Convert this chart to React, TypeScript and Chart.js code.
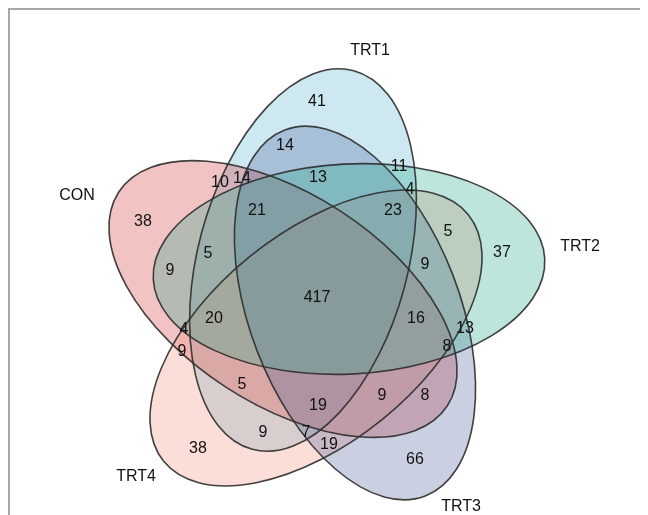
import React, { useEffect, useRef } from "react";
import { Chart, registerables } from "chart.js";

Chart.register(...registerables);

// ---- data ----
const setNames = ["CON", "TRT1", "TRT2", "TRT3", "TRT4"];
const setFillColors = [
  "rgba(212,55,55,0.3)",
  "rgba(90,178,205,0.3)",
  "rgba(40,168,140,0.3)",
  "rgba(80,95,155,0.3)",
  "rgba(242,145,122,0.3)",
];
// painting order of the set fills (TRT1, CON, TRT4, TRT3, TRT2)
const fillOrder = [1, 0, 4, 3, 2];
const ellipseCenterX = [283, 303, 349, 355, 316];
const ellipseCenterY = [299, 260, 269, 313, 338];
const ellipseSemiMajor = [196, 196, 196, 196, 196];
const ellipseSemiMinor = [105, 105, 105, 105, 105];
const ellipseAngleDeg = [213, -75, -3, 69, 141];
const setLabelX = [77, 370, 580, 461, 136];
const setLabelY = [196, 51, 247, 507, 477];

const regionCounts = [
  41, 14, 10, 14, 13, 21, 38, 5, 11, 4, 23, 5, 37, 417, 9, 9, 20, 4, 9, 5,
  19, 9, 7, 38, 16, 13, 8, 9, 8, 19, 66,
];
const regionX = [
  317, 285, 220, 242, 318, 257, 143, 208, 399, 410, 393, 448, 502, 317, 425,
  170, 214, 184, 182, 242, 318, 263, 306, 198, 416, 465, 447, 382, 425, 329,
  415,
];
const regionY = [
  102, 146, 183, 179, 178, 211, 222, 254, 167, 190, 211, 232, 253, 298, 265,
  271, 319, 330, 352, 385, 406, 433, 433, 449, 319, 329, 347, 396, 396, 445,
  460,
];

const vennPlugin = {
  id: "vennPlugin",
  beforeDatasetsDraw(chart: any) {
    const { ctx, scales } = chart;
    const xs = scales.x;
    const ys = scales.y;
    const k = Math.abs(xs.getPixelForValue(100) - xs.getPixelForValue(0)) / 100;
    const shapes = setNames.map((_, i) => ({
      x: xs.getPixelForValue(ellipseCenterX[i]),
      y: ys.getPixelForValue(ellipseCenterY[i]),
      a: ellipseSemiMajor[i] * k,
      b: ellipseSemiMinor[i] * k,
      r: (ellipseAngleDeg[i] * Math.PI) / 180,
    }));
    ctx.save();
    fillOrder.forEach((i) => {
      const s = shapes[i];
      ctx.beginPath();
      ctx.ellipse(s.x, s.y, s.a, s.b, s.r, 0, Math.PI * 2);
      ctx.fillStyle = setFillColors[i];
      ctx.fill();
    });
    shapes.forEach((s) => {
      ctx.beginPath();
      ctx.ellipse(s.x, s.y, s.a, s.b, s.r, 0, Math.PI * 2);
      ctx.strokeStyle = "rgba(45,45,45,0.9)";
      ctx.lineWidth = 1.6;
      ctx.stroke();
    });
    ctx.restore();
  },
  afterDatasetsDraw(chart: any) {
    const { ctx } = chart;
    ctx.save();
    ctx.fillStyle = "#111";
    ctx.textAlign = "center";
    ctx.textBaseline = "middle";
    ctx.font = "16px 'Liberation Sans', Arial, sans-serif";
    chart.data.datasets.forEach((ds: any, di: number) => {
      const meta = chart.getDatasetMeta(di);
      meta.data.forEach((pt: any, j: number) => {
        ctx.fillText(String(ds.texts[j]), pt.x, pt.y);
      });
    });
    ctx.restore();
  },
};

export default function App() {
  const canvasRef = useRef<HTMLCanvasElement | null>(null);

  useEffect(() => {
    if (!canvasRef.current) return;
    const chart = new Chart(canvasRef.current, {
      type: "scatter",
      data: {
        datasets: [
          {
            label: "regions",
            data: regionX.map((x, i) => ({ x, y: regionY[i] })),
            texts: regionCounts,
            pointRadius: 0,
          } as any,
          {
            label: "sets",
            data: setLabelX.map((x, i) => ({ x, y: setLabelY[i] })),
            texts: setNames,
            pointRadius: 0,
          } as any,
        ],
      },
      options: {
        animation: false,
        responsive: true,
        maintainAspectRatio: false,
        layout: { padding: 0 },
        events: [],
        plugins: {
          legend: { display: false },
          tooltip: { enabled: false },
        },
        scales: {
          x: { type: "linear", min: 10, max: 648, display: false },
          y: { type: "linear", min: 10, max: 515, reverse: true, display: false },
        },
      },
      plugins: [vennPlugin],
    });
    return () => chart.destroy();
  }, []);

  return (
    <div
      style={{
        width: 638,
        height: 505,
        borderTop: "2px solid #a8a8a8",
        borderLeft: "2px solid #a8a8a8",
        background: "#fff",
      }}
    >
      <canvas ref={canvasRef} />
    </div>
  );
}
